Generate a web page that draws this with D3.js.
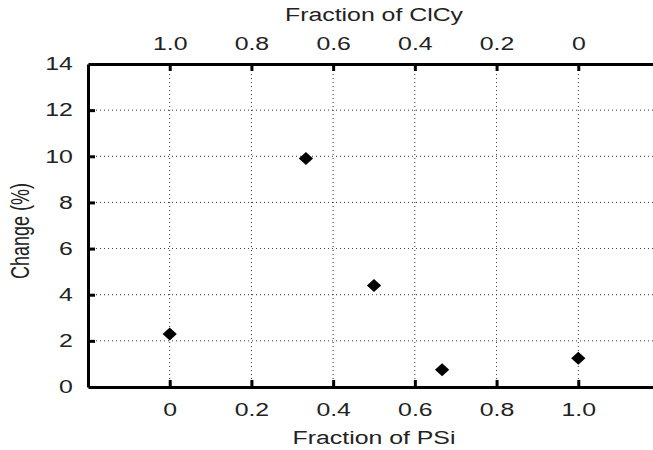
<!DOCTYPE html>
<html lang="en">
<head>
<meta charset="utf-8"/>
<title>Change vs fraction</title>
<script src="https://cdn.jsdelivr.net/npm/d3@7"></script>
<style>
  body { margin: 0; background: #fff; }
  text { font-family: "Liberation Sans", Arial, sans-serif; fill: #222; }
</style>
</head>
<body>
<svg id="chart"></svg>
<script>
// data
const psiFraction = [0, 1/3, 0.5, 2/3, 1.0]
const changePct = [2.3, 9.9, 4.4, 0.75, 1.25]
const bottomTicks = [0, 0.2, 0.4, 0.6, 0.8, 1.0]
const bottomLabels = ['0', '0.2', '0.4', '0.6', '0.8', '1.0']
const topLabels = ['1.0', '0.8', '0.6', '0.4', '0.2', '0']
const yTicks = [0, 2, 4, 6, 8, 10, 12, 14]

const width = 653
const height = 450
const margin = {top: 64, right: -7, bottom: 63, left: 88}
// the source picture is stretched sideways, so the text is too
const stretch = 1.38
const fontSize = 18

const svg = d3.select('#chart')
  .attr('width', width)
  .attr('height', height)

const x = d3.scaleLinear()
  .domain([-0.2, 1.2])
  .range([margin.left, width - margin.right])

const y = d3.scaleLinear()
  .domain([0, 14])
  .range([height - margin.bottom, margin.top])

// dotted grid
const grid = svg.append('g')
  .attr('stroke', '#333')
  .attr('stroke-width', 1)
  .attr('stroke-dasharray', '1,3')

grid.selectAll('line.v')
  .data(bottomTicks)
  .enter().append('line')
  .attr('x1', d => x(d)).attr('x2', d => x(d))
  .attr('y1', y(0)).attr('y2', y(14))

grid.selectAll('line.h')
  .data(yTicks.filter(d => d > 0 && d < 14))
  .enter().append('line')
  .attr('x1', x(-0.2)).attr('x2', x(1.2))
  .attr('y1', d => y(d)).attr('y2', d => y(d))

// axes
const bottomAxis = d3.axisBottom(x)
  .tickValues(bottomTicks)
  .tickFormat((d, i) => bottomLabels[i])
  .tickSizeInner(-7).tickSizeOuter(0).tickPadding(16)

const topAxis = d3.axisTop(x)
  .tickValues(bottomTicks)
  .tickFormat((d, i) => topLabels[i])
  .tickSizeInner(-7).tickSizeOuter(0).tickPadding(14)

const leftAxis = d3.axisLeft(y)
  .tickValues(yTicks)
  .tickSizeInner(-7).tickSizeOuter(0).tickPadding(11)

function styleAxis(g) {
  g.select('.domain').attr('stroke', '#000').attr('stroke-width', 3)
  g.selectAll('.tick line').attr('stroke', '#000').attr('stroke-width', 3)
  g.selectAll('.tick text')
    .attr('font-size', fontSize)
    .attr('font-family', '"Liberation Sans", Arial, sans-serif')
    .attr('fill', '#222')
    .attr('transform', `scale(${stretch},1)`)
}

svg.append('g')
  .attr('transform', `translate(0,${y(0)})`)
  .call(bottomAxis).call(styleAxis)

svg.append('g')
  .attr('transform', `translate(0,${y(14)})`)
  .call(topAxis).call(styleAxis)

const left = svg.append('g')
  .attr('transform', `translate(${x(-0.2)},0)`)
  .call(leftAxis).call(styleAxis)
// the zero and top tick marks sit on the border
left.selectAll('.tick line').filter(d => d === 0 || d === 14).remove()

// points as diamonds
svg.append('g')
  .selectAll('path')
  .data(psiFraction)
  .enter().append('path')
  .attr('d', d3.symbol().type(d3.symbolSquare).size(84))
  .attr('transform', (d, i) => `translate(${x(d)},${y(changePct[i])}) scale(1.1,1) rotate(45)`)
  .attr('fill', '#000')

// titles
svg.append('text')
  .attr('transform', `translate(${x(0.5)},444) scale(${stretch},1)`)
  .attr('text-anchor', 'middle')
  .attr('font-size', fontSize)
  .text('Fraction of PSi')

svg.append('text')
  .attr('transform', `translate(${x(0.5)},21) scale(${stretch},1)`)
  .attr('text-anchor', 'middle')
  .attr('font-size', fontSize)
  .text('Fraction of ClCy')

svg.append('text')
  .attr('transform', `translate(29,231) scale(${stretch},1) rotate(-90)`)
  .attr('text-anchor', 'middle')
  .attr('font-size', fontSize)
  .text('Change (%)')
</script>
</body>
</html>
